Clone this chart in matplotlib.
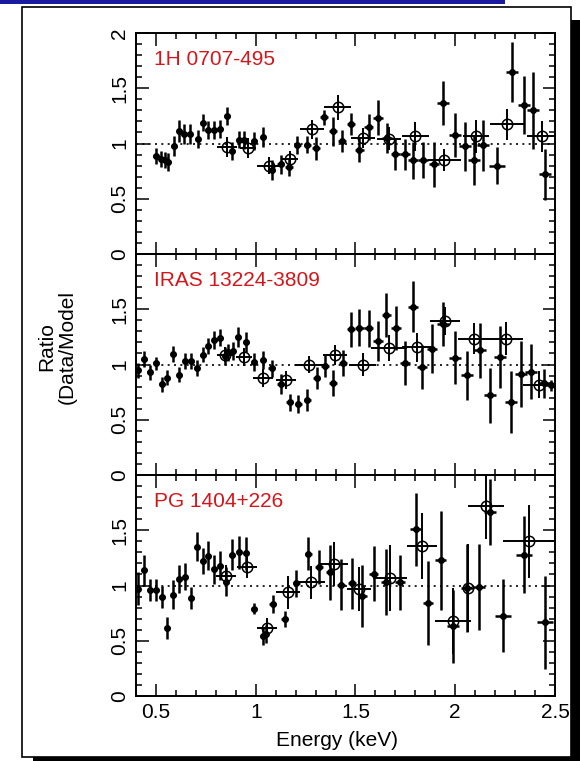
import matplotlib
matplotlib.use("Agg")
import matplotlib.pyplot as plt
from matplotlib.patches import Rectangle
from matplotlib.ticker import MultipleLocator, FuncFormatter

plt.rcParams['font.family'] = ['Liberation Sans', 'DejaVu Sans']

# ---------------------------------------------------------------- data
source_names = ["1H 0707-495", "IRAS 13224-3809", "PG 1404+226"]

# 1H 0707-495 : fine-binned spectrum (filled) and coarse-binned spectrum (open)
h0707_e = [0.500, 0.527, 0.544, 0.561, 0.590, 0.616, 0.641, 0.669, 0.709, 0.734,
           0.762, 0.790, 0.820, 0.854, 0.880, 0.914, 0.942, 0.990, 1.035, 1.080,
           1.125, 1.167, 1.209, 1.259, 1.301, 1.343, 1.385, 1.433, 1.478, 1.520,
           1.566, 1.613, 1.658, 1.700, 1.747, 1.790, 1.840, 1.894, 1.941, 2.000,
           2.050, 2.096, 2.140, 2.207, 2.286, 2.345, 2.390, 2.450]
h0707_r = [0.885, 0.860, 0.850, 0.830, 0.975, 1.110, 1.090, 1.090, 1.040, 1.190,
           1.120, 1.120, 1.130, 1.250, 0.930, 1.036, 1.030, 1.025, 1.060, 0.757,
           0.810, 0.790, 0.985, 0.990, 0.955, 1.236, 1.110, 1.020, 1.180, 0.940,
           1.150, 1.233, 1.050, 0.903, 0.903, 0.848, 0.850, 0.810, 1.364, 1.080,
           0.975, 0.848, 0.985, 0.800, 1.645, 1.350, 1.300, 0.720]
h0707_de = [0.013, 0.013, 0.013, 0.013, 0.013, 0.013, 0.013, 0.014, 0.014, 0.014,
            0.014, 0.014, 0.015, 0.015, 0.015, 0.015, 0.015, 0.016, 0.016, 0.017,
            0.017, 0.018, 0.018, 0.019, 0.019, 0.020, 0.020, 0.021, 0.021, 0.022,
            0.022, 0.023, 0.023, 0.024, 0.024, 0.025, 0.025, 0.026, 0.030, 0.030,
            0.030, 0.030, 0.030, 0.040, 0.030, 0.030, 0.030, 0.030]
h0707_dr = [0.07, 0.07, 0.07, 0.08, 0.09, 0.10, 0.09, 0.09, 0.08, 0.08,
            0.08, 0.08, 0.08, 0.08, 0.08, 0.08, 0.08, 0.08, 0.09, 0.09,
            0.09, 0.08, 0.08, 0.08, 0.10, 0.07, 0.13, 0.10, 0.10, 0.11,
            0.12, 0.16, 0.14, 0.14, 0.14, 0.17, 0.16, 0.20, 0.20, 0.20,
            0.22, 0.22, 0.23, 0.17, 0.27, 0.26, 0.35, 0.23]
h0707_open_e = [0.854, 0.960, 1.066, 1.172, 1.284, 1.410, 1.540, 1.670, 1.800,
                1.946, 2.104, 2.258, 2.433]
h0707_open_r = [0.970, 0.960, 0.800, 0.860, 1.127, 1.327, 1.050, 1.045, 1.066,
                0.848, 1.066, 1.175, 1.066]
h0707_open_de = [0.050, 0.040, 0.060, 0.040, 0.060, 0.067, 0.060, 0.060, 0.067,
                 0.084, 0.067, 0.085, 0.075]
h0707_open_dr = [0.09, 0.09, 0.08, 0.07, 0.09, 0.11, 0.09, 0.10, 0.13,
                 0.10, 0.15, 0.14, 0.14]

# IRAS 13224-3809
iras_e = [0.409, 0.440, 0.468, 0.500, 0.530, 0.557, 0.587, 0.618, 0.648, 0.675,
          0.704, 0.737, 0.763, 0.793, 0.823, 0.847, 0.861, 0.884, 0.910, 0.951,
          0.990, 1.035, 1.080, 1.125, 1.170, 1.214, 1.259, 1.305, 1.348, 1.389,
          1.436, 1.478, 1.520, 1.567, 1.613, 1.655, 1.702, 1.747, 1.786, 1.832,
          1.885, 1.940, 2.000, 2.059, 2.123, 2.173, 2.224, 2.281, 2.332, 2.379,
          2.443, 2.480]
iras_r = [0.948, 1.050, 0.930, 1.010, 0.820, 0.880, 1.097, 0.909, 1.030, 1.030,
          0.970, 1.090, 1.167, 1.220, 1.243, 1.075, 1.110, 1.120, 1.250, 1.206,
          1.025, 1.040, 0.964, 0.824, 0.657, 0.645, 0.675, 0.880, 0.985, 0.833,
          1.015, 1.318, 1.333, 1.327, 1.210, 1.448, 1.333, 1.010, 1.524, 0.980,
          1.142, 1.370, 1.060, 0.903, 1.127, 0.720, 1.066, 0.660, 0.915, 0.935,
          0.830, 0.810]
iras_de = [0.013, 0.013, 0.013, 0.013, 0.013, 0.013, 0.013, 0.013, 0.013, 0.014,
           0.014, 0.014, 0.014, 0.014, 0.014, 0.012, 0.012, 0.012, 0.014, 0.015,
           0.016, 0.016, 0.017, 0.017, 0.018, 0.018, 0.019, 0.019, 0.020, 0.020,
           0.021, 0.021, 0.022, 0.022, 0.023, 0.023, 0.024, 0.024, 0.025, 0.025,
           0.026, 0.030, 0.030, 0.030, 0.030, 0.030, 0.030, 0.030, 0.030, 0.030,
           0.030, 0.030]
iras_dr = [0.07, 0.07, 0.07, 0.06, 0.07, 0.07, 0.07, 0.07, 0.07, 0.07,
           0.07, 0.07, 0.07, 0.08, 0.08, 0.08, 0.08, 0.08, 0.09, 0.09,
           0.08, 0.08, 0.08, 0.09, 0.08, 0.08, 0.10, 0.10, 0.10, 0.12,
           0.12, 0.16, 0.17, 0.17, 0.18, 0.20, 0.20, 0.20, 0.23, 0.20,
           0.22, 0.20, 0.24, 0.22, 0.25, 0.25, 0.28, 0.28, 0.30, 0.25,
           0.13, 0.05]
iras_open_e = [0.845, 0.940, 1.036, 1.153, 1.268, 1.399, 1.537, 1.668, 1.806,
               1.950, 2.096, 2.256, 2.420]
iras_open_r = [1.090, 1.070, 0.880, 0.857, 1.000, 1.082, 1.000, 1.150, 1.156,
               1.394, 1.233, 1.233, 0.818]
iras_open_de = [0.040, 0.040, 0.050, 0.050, 0.070, 0.060, 0.067, 0.090, 0.075,
                0.075, 0.080, 0.083, 0.080]
iras_open_dr = [0.07, 0.08, 0.08, 0.08, 0.08, 0.09, 0.10, 0.12, 0.13,
                0.13, 0.14, 0.15, 0.12]

# PG 1404+226
pg_e = [0.409, 0.440, 0.468, 0.500, 0.530, 0.557, 0.587, 0.618, 0.648, 0.675,
        0.704, 0.734, 0.763, 0.793, 0.823, 0.850, 0.880, 0.914, 0.951, 0.990,
        1.035, 1.050, 1.086, 1.146, 1.203, 1.264, 1.318, 1.372, 1.428, 1.483,
        1.534, 1.591, 1.652, 1.722, 1.801, 1.865, 1.928, 1.990, 2.059, 2.118,
        2.172, 2.240, 2.345, 2.450]
pg_r = [0.970, 1.140, 0.960, 0.960, 0.894, 0.615, 0.918, 1.060, 1.080, 0.885,
        1.350, 1.220, 1.270, 1.145, 1.180, 1.036, 1.280, 1.300, 1.290, 0.790,
        0.540, 0.560, 0.833, 0.697, 1.020, 1.288, 1.167, 1.120, 1.006, 1.020,
        0.903, 1.106, 1.030, 1.030, 1.510, 0.840, 1.227, 0.630, 0.976, 0.985,
        1.667, 0.727, 1.280, 0.667]
pg_de = [0.013, 0.013, 0.013, 0.013, 0.013, 0.013, 0.013, 0.013, 0.013, 0.014,
         0.014, 0.014, 0.014, 0.014, 0.014, 0.014, 0.015, 0.015, 0.016, 0.016,
         0.012, 0.012, 0.017, 0.018, 0.018, 0.019, 0.020, 0.020, 0.021, 0.022,
         0.022, 0.023, 0.024, 0.025, 0.026, 0.026, 0.028, 0.030, 0.030, 0.030,
         0.030, 0.040, 0.040, 0.040]
pg_dr = [0.15, 0.14, 0.10, 0.10, 0.10, 0.10, 0.13, 0.13, 0.12, 0.10,
         0.13, 0.12, 0.13, 0.13, 0.13, 0.13, 0.14, 0.15, 0.15, 0.05,
         0.08, 0.08, 0.08, 0.07, 0.12, 0.15, 0.15, 0.25, 0.23, 0.23,
         0.28, 0.25, 0.30, 0.25, 0.33, 0.38, 0.45, 0.33, 0.40, 0.39,
         0.30, 0.33, 0.35, 0.42]
pg_open_e = [0.850, 0.956, 1.057, 1.161, 1.276, 1.394, 1.520, 1.672, 1.832,
             1.988, 2.066, 2.155, 2.370]
pg_open_r = [1.090, 1.167, 0.615, 0.940, 1.030, 1.197, 0.970, 1.067, 1.358,
             0.680, 0.979, 1.720, 1.400]
pg_open_de = [0.050, 0.050, 0.050, 0.060, 0.070, 0.070, 0.060, 0.085, 0.075,
              0.090, 0.020, 0.090, 0.130]
pg_open_dr = [0.10, 0.10, 0.09, 0.15, 0.15, 0.20, 0.20, 0.30, 0.30,
              0.30, 0.40, 0.30, 0.33]

panels = [
    (h0707_e, h0707_r, h0707_de, h0707_dr,
     h0707_open_e, h0707_open_r, h0707_open_de, h0707_open_dr),
    (iras_e, iras_r, iras_de, iras_dr,
     iras_open_e, iras_open_r, iras_open_de, iras_open_dr),
    (pg_e, pg_r, pg_de, pg_dr,
     pg_open_e, pg_open_r, pg_open_de, pg_open_dr),
]

x_range = (0.4, 2.5)
y_range = (0.0, 2.0)

# ---------------------------------------------------------------- figure
W, H = 580, 761
fig = plt.figure(figsize=(W / 100, H / 100), dpi=100, facecolor="white")

# page frame with drop shadow and blue rule at the top
fig.patches.append(Rectangle((33 / W, -0.01), 1.0, 1 - 20 / H + 0.01,
                             transform=fig.transFigure, fc="black", ec="none",
                             zorder=-3))
fig.patches.append(Rectangle((22 / W, 1 - 757 / H), (571 - 22) / W, (757 - 7) / H,
                             transform=fig.transFigure, fc="white", ec="black",
                             lw=1.2, zorder=-2))
fig.patches.append(Rectangle((0, 1 - 3.5 / H), 505 / W, 0.01,
                             transform=fig.transFigure, fc="#1a1a9e", ec="none",
                             zorder=-1))

left, right = 136 / W, 555 / W
top, bottom = 1 - 33 / H, 1 - 696 / H
ph = (top - bottom) / 3

label_red = "#d4161b"
fs = 15

for i, (e, r, de, dr, oe, orr, ode, odr) in enumerate(panels):
    ax = fig.add_axes([left, top - (i + 1) * ph, right - left, ph])
    ax.set_facecolor("none")
    ax.set_xlim(*x_range)
    ax.set_ylim(*y_range)

    ax.axhline(1.0, color="black", lw=1.2, ls=(0, (1.2, 2.6)), zorder=1)

    ax.errorbar(e, r, xerr=de, yerr=dr, fmt="o", ms=5.0, color="black",
                mew=0, elinewidth=1.8, capsize=0, zorder=3)
    ax.errorbar(oe, orr, xerr=ode, yerr=odr, fmt="o", ms=7.5, color="black",
                mfc="none", mec="black", mew=1.1, elinewidth=1.4, capsize=0,
                zorder=4)

    ax.text(0.043, 0.855, source_names[i], transform=ax.transAxes,
            color=label_red, fontsize=fs, ha="left", va="baseline")

    ax.xaxis.set_major_locator(MultipleLocator(0.5))
    ax.xaxis.set_minor_locator(MultipleLocator(0.1))
    ax.yaxis.set_major_locator(MultipleLocator(0.5))
    ax.yaxis.set_minor_locator(MultipleLocator(0.1))
    ax.tick_params(which="both", direction="in", top=True, right=True,
                   width=1.1, color="black")
    ax.tick_params(which="major", length=9)
    ax.tick_params(which="minor", length=4.5)
    ax.tick_params(axis="y", labelsize=fs, pad=5, labelrotation=90)
    ax.tick_params(axis="x", labelsize=fs, pad=5)
    for s in ax.spines.values():
        s.set_linewidth(1.4)

    if i == 0:
        ax.yaxis.set_major_formatter(FuncFormatter(lambda v, p: f"{v:g}"))
    else:
        ax.yaxis.set_major_formatter(
            FuncFormatter(lambda v, p: "" if v > 1.9 else f"{v:g}"))
    for lab in ax.get_yticklabels():
        lab.set_va("center")

    if i < 2:
        ax.tick_params(axis="x", labelbottom=False)
    else:
        ax.xaxis.set_major_formatter(FuncFormatter(lambda v, p: f"{v:g}"))

fig.text(337 / W, 1 - 741 / H, "Energy (keV)", fontsize=fs,
         ha="center", va="center")
fig.text(57 / W, 1 - 347 / H, "Ratio\n(Data/Model", fontsize=fs, rotation=90,
         ha="center", va="center", multialignment="center", linespacing=1.05)

fig.savefig("out.png", dpi=100, facecolor="white")
